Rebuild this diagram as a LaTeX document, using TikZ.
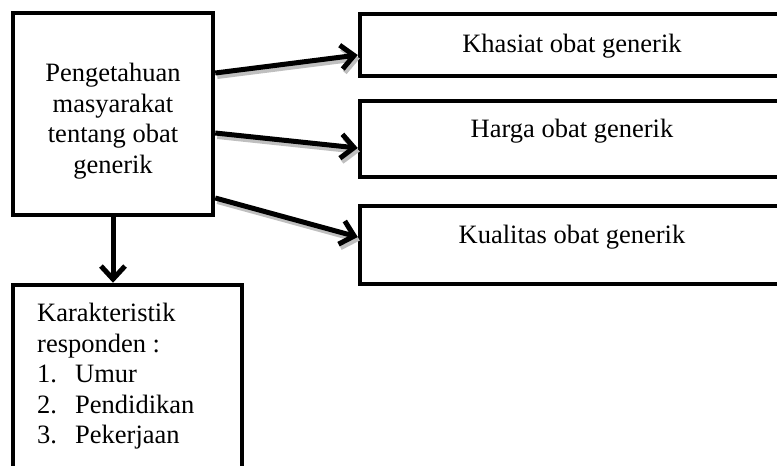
\documentclass[tikz,border=0pt]{standalone}
\usepackage{fontspec}
\setmainfont{Liberation Serif}
\usetikzlibrary{arrows.meta,calc}
\begin{document}
\begin{tikzpicture}[x=1pt,y=-1pt,
  box/.style={draw, line width=4.5pt, rectangle, inner sep=0pt},
  txt/.style={inner sep=0pt, font=\fontsize{26.5pt}{30.6pt}\selectfont},
  conn/.style={line width=5pt, -{Straight Barb[length=13pt,width=24pt,line width=5pt]}},
  shade/.style={conn, draw=gray!50}]
\useasboundingbox (0,0) rectangle (777,466);
\clip (0,0) rectangle (777,466);
% boxes
\node[box, minimum width=200pt, minimum height=202pt] (main) at (113,114) {};
\node[txt, align=center] (maintxt) at (113,121) {Pengetahuan\\masyarakat\\tentang obat\\generik};
\node[box, minimum width=430pt, minimum height=62pt] (b1) at (575,45) {};
\node[box, minimum width=430pt, minimum height=76pt] (b2) at (575,139) {};
\node[box, minimum width=430pt, minimum height=78pt] (b3) at (575,245) {};
\node[txt, anchor=base] (t1) at (572,52) {Khasiat obat generik};
\node[txt, anchor=base] (t2) at (572,137) {Harga obat generik};
\node[txt, anchor=base] (t3) at (572,243) {Kualitas obat generik};
\node[box, minimum width=229pt, minimum height=205pt] (bot) at (127.5,387.5) {};
\node[txt, align=left, anchor=north west] (bottxt) at (37,303)
  {Karakteristik\\responden :\\\makebox[38pt][l]{1.}Umur\\\makebox[38pt][l]{2.}Pendidikan\\\makebox[38pt][l]{3.}Pekerjaan};
% connector end points
\coordinate (s1) at (main.east |- 0,73);
\coordinate (s2) at (main.east |- 0,133);
\coordinate (s3) at (main.east |- 0,198);
\coordinate (e1) at (b1.west |- 0,55);
\coordinate (e2) at (b2.west |- 0,148);
\coordinate (e3) at (b3.west |- 0,237);
% shadows
\draw[shade] ([shift={(2,3.5)}]s1) -- ([shift={(2,3.5)}]e1);
\draw[shade] ([shift={(2,3.5)}]s2) -- ([shift={(2,3.5)}]e2);
\draw[shade] ([shift={(2,3.5)}]s3) -- ([shift={(2,3.5)}]e3);
% connectors
\draw[conn] (s1) -- (e1);
\draw[conn] (s2) -- (e2);
\draw[conn] (s3) -- (e3);
\draw[conn] (main.south) -- (main.south |- bot.north);
\end{tikzpicture}
\end{document}
